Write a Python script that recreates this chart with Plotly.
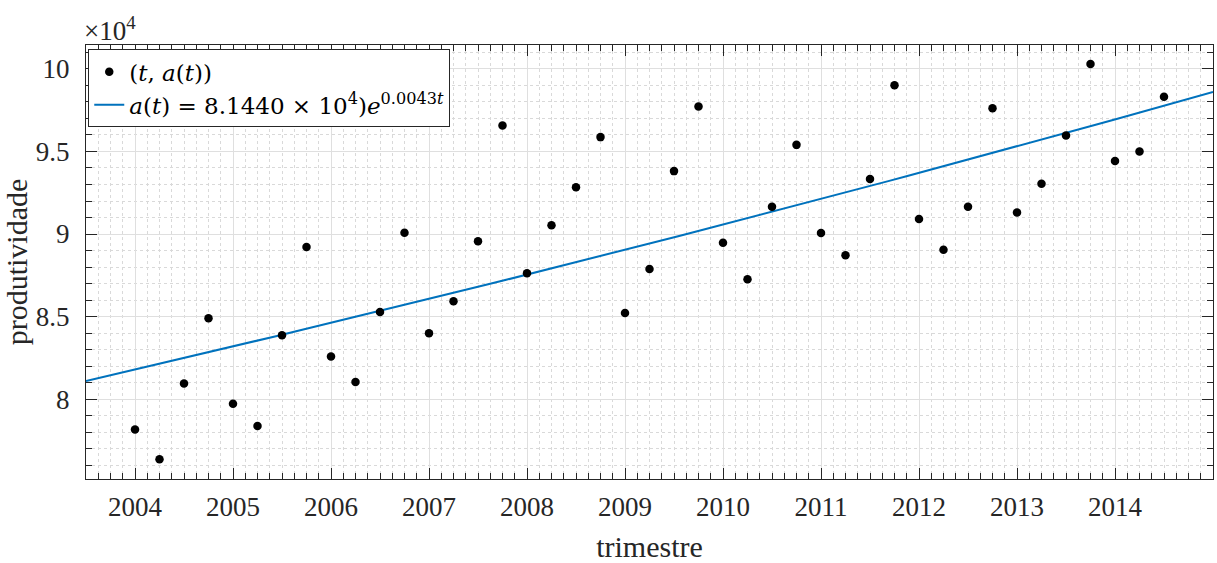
import plotly.graph_objects as go
import numpy as np

# quarters (time axis, in years) and productivity values
quarters = [2004.0, 2004.25, 2004.5, 2004.75, 2005.0, 2005.25, 2005.5, 2005.75,
            2006.0, 2006.25, 2006.5, 2006.75, 2007.0, 2007.25, 2007.5, 2007.75,
            2008.0, 2008.25, 2008.5, 2008.75, 2009.0, 2009.25, 2009.5, 2009.75,
            2010.0, 2010.25, 2010.5, 2010.75, 2011.0, 2011.25, 2011.5, 2011.75,
            2012.0, 2012.25, 2012.5, 2012.75, 2013.0, 2013.25, 2013.5, 2013.75,
            2014.0, 2014.25, 2014.5]
produtividade = [78160, 76350, 80940, 84900, 79720, 78370, 83870, 89210,
                 82580, 81030, 85280, 90080, 83990, 85930, 89560, 96580,
                 87620, 90530, 92830, 95870, 85220, 87880, 93810, 97730,
                 89470, 87260, 91650, 95400, 90060, 88710, 93330, 99010,
                 90910, 89050, 91650, 97620, 91310, 93040, 95970, 100300,
                 94430, 95000, 98310]

# exponential fit a(t) = a0 * exp(b t), t = quarter index (t=1 at 2004 Q1)
fit_a0 = 8.1440e4
fit_b = 0.00425
fit_t0_year = 2003.75
x_range = [2003.5, 2015.0]
y_range = [7.516, 10.145]   # in units of 10^4
scale = 1e4

x_ticks = [2004, 2005, 2006, 2007, 2008, 2009, 2010, 2011, 2012, 2013, 2014]
y_ticks = [8, 8.5, 9, 9.5, 10]
y_tick_labels = ["8", "8.5", "9", "9.5", "10"]

fit_x = np.linspace(x_range[0], x_range[1], 60)
fit_y = fit_a0 * np.exp(fit_b * (fit_x - fit_t0_year) * 4) / scale

FONT = "Liberation Serif"
FONT_LEG = "DejaVu Serif"
DARK = "#262626"

fig = go.Figure()
fig.add_trace(go.Scatter(
    x=fit_x, y=fit_y, mode="lines",
    line=dict(color="#0072BD", width=2),
    name="<i>a</i>(<i>t</i>) = 8.1440 × 10<sup>4</sup>)<i>e</i><sup>0.0043<i>t</i></sup>",
    legendrank=2,
))
fig.add_trace(go.Scatter(
    x=quarters, y=[v / scale for v in produtividade], mode="markers",
    marker=dict(color="black", size=8.5),
    name="(<i>t</i>, <i>a</i>(<i>t</i>))",
    legendrank=1,
))

axis_common = dict(
    showline=True, linecolor=DARK, linewidth=1, mirror="allticks",
    ticks="inside", ticklen=11, tickcolor=DARK, tickwidth=1,
    showgrid=True, gridcolor="#dfdfdf", gridwidth=1,
    zeroline=False,
    tickfont=dict(family=FONT, size=27, color=DARK),
)

fig.update_xaxes(
    range=x_range, tickmode="array", tickvals=x_ticks,
    ticktext=[str(v) for v in x_ticks],
    minor=dict(tick0=2004, dtick=0.125, ticks="inside", ticklen=6, tickcolor=DARK,
               showgrid=True, gridcolor="#d9d9d9", griddash="dot", gridwidth=1),
    title=dict(text="trimestre", font=dict(family=FONT, size=30, color=DARK), standoff=16),
    ticklabelstandoff=4,
    **axis_common,
)
fig.update_yaxes(
    range=y_range, tickmode="array", tickvals=y_ticks, ticktext=y_tick_labels,
    minor=dict(tick0=8, dtick=0.1, ticks="inside", ticklen=6, tickcolor=DARK,
               showgrid=True, gridcolor="#d9d9d9", griddash="dot", gridwidth=1),
    title=dict(text="produtividade", font=dict(family=FONT, size=30, color=DARK), standoff=0),
    ticklabelstandoff=10,
    **axis_common,
)

fig.add_annotation(
    x=0, y=1, xref="paper", yref="paper", xanchor="left", yanchor="bottom",
    text="×10<sup>4</sup>", showarrow=False, xshift=-4, yshift=-3,
    font=dict(family=FONT, size=27, color=DARK),
)

fig.update_layout(
    width=1217, height=563,
    margin=dict(l=86, r=4, t=45, b=84),
    paper_bgcolor="white", plot_bgcolor="white",
    showlegend=True,
    legend=dict(
        x=0.002, y=0.99, xanchor="left", yanchor="top",
        bgcolor="white", bordercolor=DARK, borderwidth=1,
        font=dict(family=FONT_LEG, size=23, color="black"),
        tracegroupgap=0, itemwidth=30,
    ),
)

fig.write_html("out.html")
